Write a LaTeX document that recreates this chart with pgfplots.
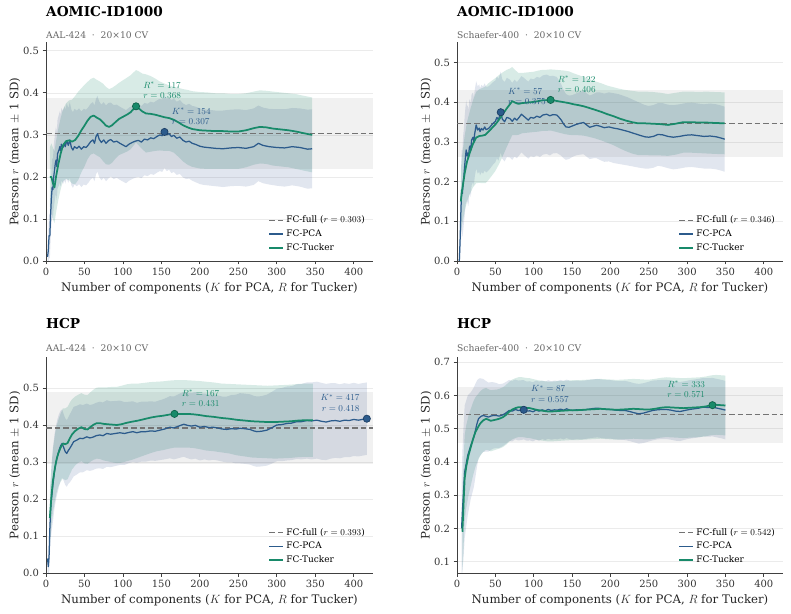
\documentclass[border=0pt]{standalone}
\usepackage{fontspec}
\setmainfont{DejaVu Serif}
\usepackage{pgfplots}
\usepackage{pgfplotstable}
\pgfplotsset{compat=1.18}
\usepgfplotslibrary{fillbetween}

\definecolor{pcaC}{RGB}{44,91,140}
\definecolor{pcaD}{RGB}{28,62,100}
\definecolor{tucC}{RGB}{24,138,106}
\definecolor{tucD}{RGB}{14,98,74}
\definecolor{bandP}{RGB}{55,85,145}

% ---------------- AOMIC / AAL ----------------
\pgfplotstableread{
k m s
2 0.010 0.03
3 0.025 0.04
4 0.060 0.05
5 0.060 0.055
6 0.110 0.06
7 0.150 0.065
8 0.175 0.07
9 0.170 0.07
10 0.200 0.075
12 0.230 0.078
13 0.240 0.08
14 0.225 0.08
15 0.255 0.082
17 0.265 0.085
18 0.272 0.085
19 0.262 0.085
20 0.278 0.086
22 0.270 0.087
24 0.280 0.088
25 0.272 0.088
27 0.286 0.089
29 0.275 0.089
31 0.288 0.09
33 0.270 0.09
35 0.264 0.09
37 0.272 0.09
40 0.268 0.09
43 0.273 0.09
46 0.266 0.09
49 0.272 0.09
52 0.270 0.09
55 0.276 0.09
58 0.284 0.09
61 0.288 0.09
63 0.280 0.09
65 0.296 0.09
67 0.303 0.09
69 0.290 0.09
72 0.282 0.09
75 0.288 0.09
78 0.280 0.09
81 0.286 0.09
84 0.289 0.088
88 0.283 0.088
92 0.285 0.087
96 0.280 0.087
100 0.276 0.087
104 0.272 0.087
108 0.278 0.087
112 0.282 0.087
116 0.285 0.087
120 0.287 0.087
124 0.283 0.086
128 0.290 0.086
132 0.288 0.086
136 0.293 0.086
140 0.291 0.086
144 0.296 0.086
148 0.300 0.086
151 0.298 0.086
154 0.307 0.086
157 0.300 0.086
160 0.303 0.086
163 0.296 0.087
166 0.299 0.087
170 0.292 0.087
174 0.295 0.088
178 0.287 0.088
182 0.283 0.088
186 0.285 0.089
190 0.280 0.089
195 0.277 0.09
200 0.273 0.09
205 0.271 0.09
210 0.270 0.09
220 0.268 0.09
230 0.267 0.091
240 0.269 0.091
250 0.270 0.091
260 0.268 0.091
270 0.272 0.091
276 0.280 0.09
282 0.275 0.09
290 0.272 0.09
300 0.270 0.091
310 0.269 0.092
320 0.272 0.092
330 0.270 0.093
340 0.266 0.094
346 0.267 0.094
}\tlP
\pgfplotstableread{
k m s
5 0.200 0.07
7 0.200 0.08
9 0.185 0.085
11 0.175 0.085
13 0.200 0.085
16 0.230 0.085
19 0.255 0.085
22 0.275 0.085
26 0.285 0.09
30 0.287 0.095
34 0.284 0.1
38 0.288 0.105
42 0.298 0.105
46 0.311 0.1
50 0.322 0.097
54 0.334 0.092
58 0.343 0.09
62 0.346 0.09
66 0.341 0.09
70 0.337 0.09
74 0.330 0.092
78 0.322 0.092
82 0.319 0.09
86 0.323 0.089
90 0.330 0.087
95 0.338 0.086
100 0.343 0.087
106 0.349 0.088
110 0.354 0.088
114 0.362 0.087
117 0.368 0.086
120 0.364 0.088
125 0.356 0.09
130 0.351 0.093
136 0.350 0.09
142 0.348 0.086
148 0.345 0.082
154 0.342 0.08
160 0.340 0.078
166 0.336 0.078
172 0.330 0.082
178 0.323 0.086
184 0.318 0.089
190 0.314 0.09
200 0.311 0.091
210 0.310 0.091
220 0.309 0.09
230 0.309 0.09
240 0.308 0.089
250 0.308 0.089
260 0.311 0.088
270 0.316 0.087
278 0.319 0.087
286 0.318 0.087
295 0.315 0.088
305 0.313 0.088
315 0.311 0.088
325 0.308 0.089
335 0.304 0.089
346 0.300 0.089
}\tlT

% ---------------- AOMIC / Schaefer ----------------
\pgfplotstableread{
k m s
3 0.000 0.03
4 0.050 0.05
5 0.120 0.08
6 0.179 0.10
7 0.170 0.11
8 0.196 0.12
9 0.215 0.12
10 0.240 0.125
11 0.262 0.125
12 0.280 0.125
13 0.265 0.125
14 0.272 0.12
15 0.259 0.12
16 0.285 0.12
17 0.290 0.118
18 0.278 0.117
19 0.305 0.115
21 0.312 0.113
22 0.300 0.112
23 0.320 0.11
25 0.343 0.11
27 0.330 0.11
29 0.335 0.11
30 0.326 0.11
32 0.334 0.11
34 0.330 0.11
36 0.338 0.11
38 0.331 0.108
41 0.334 0.106
44 0.340 0.105
47 0.347 0.104
50 0.352 0.103
52 0.362 0.103
54 0.356 0.103
57 0.375 0.102
59 0.358 0.1
62 0.351 0.1
65 0.362 0.1
69 0.359 0.098
72 0.352 0.097
75 0.360 0.097
78 0.355 0.096
81 0.362 0.096
84 0.370 0.096
87 0.365 0.097
90 0.360 0.097
93 0.355 0.097
96 0.362 0.098
100 0.360 0.098
104 0.365 0.099
108 0.362 0.1
112 0.368 0.1
117 0.370 0.1
121 0.366 0.1
125 0.369 0.098
130 0.368 0.096
133 0.362 0.093
136 0.355 0.09
139 0.345 0.086
142 0.338 0.083
146 0.337 0.08
150 0.340 0.078
155 0.344 0.078
160 0.347 0.079
165 0.349 0.08
169 0.343 0.08
173 0.337 0.08
178 0.340 0.081
182 0.342 0.083
186 0.340 0.085
192 0.336 0.086
198 0.338 0.087
204 0.335 0.088
210 0.333 0.088
216 0.330 0.087
222 0.327 0.086
230 0.322 0.084
238 0.317 0.082
245 0.313 0.08
250 0.312 0.079
256 0.314 0.079
262 0.319 0.079
268 0.318 0.08
275 0.314 0.08
282 0.312 0.081
290 0.314 0.081
298 0.317 0.081
306 0.318 0.081
314 0.316 0.081
322 0.314 0.081
330 0.315 0.082
338 0.313 0.082
344 0.310 0.082
349 0.307 0.082
}\trP
\pgfplotstableread{
k m s
5 0.150 0.08
6 0.170 0.085
8 0.195 0.09
10 0.221 0.095
13 0.250 0.1
17 0.275 0.105
21 0.296 0.11
25 0.311 0.115
29 0.315 0.118
33 0.316 0.12
37 0.318 0.122
41 0.326 0.122
45 0.334 0.12
50 0.344 0.117
55 0.357 0.112
60 0.371 0.105
65 0.385 0.097
69 0.395 0.09
72 0.403 0.086
76 0.399 0.082
80 0.396 0.078
85 0.398 0.076
90 0.399 0.076
95 0.400 0.076
100 0.401 0.076
106 0.403 0.077
112 0.405 0.077
117 0.405 0.077
122 0.406 0.077
128 0.404 0.078
134 0.402 0.079
140 0.400 0.08
146 0.398 0.08
152 0.395 0.078
158 0.393 0.076
165 0.390 0.074
172 0.386 0.073
180 0.381 0.072
188 0.376 0.072
196 0.370 0.072
204 0.365 0.073
212 0.359 0.075
220 0.354 0.077
228 0.350 0.079
236 0.347 0.08
245 0.347 0.08
255 0.346 0.08
265 0.345 0.079
275 0.343 0.078
285 0.346 0.078
295 0.350 0.077
305 0.350 0.077
315 0.349 0.077
325 0.349 0.078
335 0.348 0.078
349 0.347 0.078
}\trT

% ---------------- HCP / AAL ----------------
\pgfplotstableread{
k m s
2 0.040 0.03
3 0.018 0.035
4 0.045 0.05
5 0.120 0.07
6 0.170 0.08
7 0.198 0.09
9 0.240 0.1
11 0.275 0.1
13 0.300 0.1
15 0.318 0.1
17 0.333 0.098
19 0.345 0.095
21 0.351 0.092
23 0.340 0.09
25 0.329 0.09
27 0.324 0.09
29 0.332 0.09
31 0.338 0.092
33 0.345 0.093
36 0.356 0.094
40 0.360 0.093
44 0.365 0.092
48 0.364 0.091
53 0.369 0.09
57 0.366 0.089
61 0.368 0.089
65 0.372 0.089
70 0.374 0.09
74 0.372 0.09
79 0.378 0.09
84 0.376 0.089
90 0.378 0.088
96 0.380 0.087
102 0.378 0.085
108 0.381 0.083
113 0.383 0.082
118 0.380 0.081
124 0.383 0.081
130 0.383 0.081
136 0.385 0.08
142 0.384 0.08
148 0.387 0.081
154 0.390 0.082
161 0.395 0.084
166 0.393 0.085
170 0.396 0.086
175 0.400 0.087
179 0.403 0.088
184 0.400 0.089
189 0.398 0.09
194 0.400 0.09
200 0.395 0.09
206 0.397 0.089
212 0.394 0.089
217 0.395 0.088
223 0.393 0.088
229 0.390 0.088
235 0.389 0.089
241 0.391 0.091
247 0.390 0.093
252 0.392 0.095
258 0.391 0.095
265 0.389 0.095
270 0.385 0.095
274 0.383 0.095
280 0.384 0.095
287 0.387 0.096
293 0.393 0.097
300 0.401 0.098
306 0.402 0.099
313 0.405 0.1
319 0.406 0.1
326 0.410 0.101
332 0.410 0.102
339 0.413 0.103
345 0.412 0.104
352 0.414 0.104
358 0.411 0.104
364 0.409 0.103
370 0.412 0.102
376 0.413 0.101
382 0.411 0.1
388 0.414 0.1
394 0.413 0.099
400 0.416 0.099
406 0.414 0.098
411 0.416 0.098
417 0.418 0.098
}\blP
\pgfplotstableread{
k m s
5 0.150 0.07
7 0.207 0.08
9 0.250 0.085
12 0.290 0.09
14 0.310 0.09
16 0.324 0.09
19 0.340 0.092
22 0.351 0.095
25 0.349 0.097
28 0.352 0.098
31 0.365 0.097
34 0.376 0.095
38 0.385 0.093
42 0.391 0.092
46 0.395 0.092
50 0.390 0.093
54 0.389 0.093
58 0.396 0.094
62 0.402 0.095
66 0.406 0.096
70 0.406 0.097
75 0.404 0.099
80 0.403 0.1
86 0.402 0.102
92 0.401 0.103
98 0.403 0.104
105 0.407 0.104
112 0.410 0.103
120 0.413 0.1
128 0.417 0.098
136 0.421 0.096
144 0.424 0.094
152 0.426 0.093
160 0.429 0.092
167 0.431 0.091
175 0.431 0.091
183 0.431 0.091
191 0.430 0.091
199 0.428 0.092
208 0.425 0.093
218 0.423 0.093
228 0.420 0.093
238 0.418 0.094
248 0.415 0.096
258 0.413 0.097
268 0.411 0.098
278 0.410 0.098
288 0.409 0.098
298 0.409 0.099
308 0.410 0.099
318 0.411 0.099
328 0.413 0.099
338 0.414 0.099
347 0.414 0.099
}\blT

% ---------------- HCP / Schaefer ----------------
\pgfplotstableread{
k m s
6 0.200 0.15
7 0.250 0.18
8 0.290 0.19
9 0.330 0.2
10 0.370 0.2
12 0.395 0.19
14 0.420 0.18
16 0.435 0.17
18 0.450 0.16
20 0.462 0.155
22 0.475 0.15
24 0.495 0.14
26 0.515 0.13
28 0.530 0.12
30 0.535 0.117
32 0.538 0.113
34 0.540 0.11
37 0.538 0.107
41 0.535 0.104
44 0.538 0.102
47 0.540 0.1
51 0.540 0.098
55 0.538 0.096
60 0.542 0.094
64 0.548 0.093
68 0.555 0.092
72 0.553 0.091
76 0.558 0.09
80 0.555 0.09
84 0.556 0.09
87 0.557 0.089
91 0.553 0.089
95 0.554 0.089
99 0.551 0.089
103 0.556 0.089
107 0.553 0.089
111 0.557 0.088
115 0.554 0.088
119 0.558 0.088
123 0.555 0.088
127 0.557 0.088
131 0.556 0.088
135 0.559 0.088
139 0.556 0.088
143 0.560 0.088
147 0.556 0.088
151 0.555 0.088
156 0.557 0.088
161 0.556 0.088
166 0.557 0.088
172 0.559 0.088
178 0.561 0.088
183 0.562 0.088
189 0.560 0.088
195 0.558 0.088
201 0.558 0.088
207 0.556 0.088
213 0.555 0.088
219 0.555 0.089
225 0.552 0.089
231 0.548 0.089
237 0.545 0.09
243 0.547 0.09
249 0.551 0.09
255 0.555 0.09
261 0.557 0.089
267 0.558 0.089
273 0.558 0.089
279 0.556 0.089
285 0.553 0.089
291 0.552 0.089
297 0.555 0.088
303 0.558 0.088
309 0.560 0.088
315 0.562 0.088
321 0.565 0.088
327 0.564 0.088
333 0.565 0.088
339 0.562 0.088
345 0.559 0.088
350 0.556 0.088
}\brP
\pgfplotstableread{
k m s
7 0.190 0.12
8 0.240 0.13
9 0.300 0.13
10 0.350 0.13
12 0.385 0.125
15 0.420 0.12
18 0.445 0.115
21 0.470 0.11
24 0.490 0.105
27 0.503 0.1
30 0.515 0.097
34 0.525 0.095
38 0.530 0.093
41 0.527 0.092
44 0.524 0.092
48 0.526 0.091
52 0.528 0.09
56 0.531 0.09
60 0.535 0.09
64 0.542 0.09
68 0.551 0.09
72 0.558 0.09
76 0.562 0.09
80 0.565 0.09
85 0.565 0.09
90 0.563 0.09
95 0.562 0.09
100 0.559 0.09
106 0.556 0.09
112 0.554 0.09
118 0.552 0.09
124 0.552 0.09
130 0.553 0.09
136 0.554 0.09
143 0.555 0.09
150 0.556 0.09
158 0.556 0.09
165 0.557 0.09
172 0.558 0.09
180 0.559 0.09
187 0.560 0.09
194 0.559 0.09
201 0.558 0.09
208 0.557 0.09
216 0.558 0.09
223 0.559 0.09
230 0.560 0.09
238 0.559 0.09
245 0.558 0.09
251 0.558 0.09
258 0.560 0.09
265 0.563 0.09
273 0.565 0.09
280 0.564 0.09
288 0.563 0.09
295 0.562 0.09
302 0.563 0.09
310 0.564 0.09
317 0.565 0.09
324 0.567 0.09
330 0.570 0.09
333 0.571 0.09
338 0.572 0.09
344 0.571 0.09
350 0.570 0.09
}\brT

\pgfplotsset{
  panel/.style={
    scale only axis, xmin=0, xmax=425,
    axis x line*=bottom, axis y line*=left,
    xtick={0,50,100,150,200,250,300,350,400},
    tick align=outside, major tick length=3.5bp,
    ymajorgrids, grid style={draw=black!8, line width=0.7bp},
    axis line style={draw=black!75, line width=0.8bp, -},
    every tick/.style={draw=black!75, line width=0.8bp},
    tick label style={font=\fontsize{10}{12}\selectfont, text=black!80},
    /pgf/number format/assume math mode=true,
    yticklabel style={/pgf/number format/fixed, /pgf/number format/fixed zerofill, /pgf/number format/precision=1},
    xlabel={Number of components ($K$ for PCA, $R$ for Tucker)},
    ylabel={Pearson $r$ (mean $\pm$ 1 SD)},
    every axis x label/.style={at={(axis description cs:0.5,0)}, anchor=center, yshift=-27bp, font=\fontsize{11.8}{14}\selectfont, text=black!85},
    every axis y label/.style={at={(axis description cs:-0.095,0.5)}, rotate=90, anchor=center, font=\fontsize{11.8}{14}\selectfont, text=black!85},
    legend style={draw=none, fill=none, at={(axis description cs:1,0)}, anchor=south east, font=\fontsize{9}{10}\selectfont, row sep=1.5bp, xshift=-6bp, yshift=7bp, inner sep=0pt},
    legend cell align=left,
    legend image code/.code={\draw[##1] (0bp,0bp) -- (14bp,0bp);},
  },
  fcline/.style={color=black!55, line width=1.25bp, dash pattern=on 5.5bp off 3bp},
  pcaline/.style={color=pcaC, line width=1.25bp, line join=round},
  tucline/.style={color=tucC, line width=1.75bp, line join=round},
  pcamark/.style={only marks, mark=*, mark size=3.6bp, mark options={fill=pcaC, draw=pcaD, line width=0.7bp}},
  tucmark/.style={only marks, mark=*, mark size=3.6bp, mark options={fill=tucC, draw=tucD, line width=0.7bp}},
  annR/.style={every node near coord/.append style={anchor=south west, align=left, inner sep=0pt, xshift=7bp, yshift=7bp, font=\fontsize{8.8}{10.5}\selectfont, text=#1}},
  annL/.style={every node near coord/.append style={anchor=south east, align=right, inner sep=0pt, xshift=-7bp, yshift=7bp, font=\fontsize{8.8}{10.5}\selectfont, text=#1}},
}

\newcommand{\bands}[3]{% #1 = PCA table, #2 = Tucker table, #3 = prefix
  \addplot[name path=#3Tu, draw=none, forget plot] table[x=k, y expr=\thisrow{m}+\thisrow{s}] {#2};
  \addplot[name path=#3Tl, draw=none, forget plot] table[x=k, y expr=\thisrow{m}-\thisrow{s}] {#2};
  \addplot[fill=tucC, fill opacity=0.17, draw=none, forget plot] fill between[of=#3Tu and #3Tl];
  \addplot[name path=#3Pu, draw=none, forget plot] table[x=k, y expr=\thisrow{m}+\thisrow{s}] {#1};
  \addplot[name path=#3Pl, draw=none, forget plot] table[x=k, y expr=\thisrow{m}-\thisrow{s}] {#1};
  \addplot[fill=bandP, fill opacity=0.15, draw=none, forget plot] fill between[of=#3Pu and #3Pl];
}

\begin{document}
\begin{tikzpicture}

% ===== Top left =====
\begin{axis}[panel, at={(46bp,353bp)}, anchor=south west, width=327bp, height=219bp,
  ymin=0, ymax=0.521, ytick={0,0.1,0.2,0.3,0.4,0.5}]
\addplot[draw=none, fill=black, fill opacity=0.055, forget plot] coordinates {(0,0.218) (425,0.218) (425,0.388) (0,0.388)};
\bands{\tlP}{\tlT}{a}
\addplot[fcline, forget plot] coordinates {(0,0.303) (425,0.303)};
\addplot[pcaline, forget plot] table[x=k, y=m] {\tlP};
\addplot[tucline, forget plot] table[x=k, y=m] {\tlT};
\addplot[pcamark, forget plot, annR=pcaC, nodes near coords={$K^{*}=154$\\$r=0.307$}] coordinates {(154,0.307)};
\addplot[tucmark, forget plot, annR=tucC, nodes near coords={$R^{*}=117$\\$r=0.368$}] coordinates {(117,0.368)};
\addlegendimage{fcline}\addlegendentry{FC-full ($r=0.303$)}
\addlegendimage{pcaline}\addlegendentry{FC-PCA}
\addlegendimage{tucline}\addlegendentry{FC-Tucker}
\end{axis}

% ===== Top right =====
\begin{axis}[panel, at={(457bp,353bp)}, anchor=south west, width=326bp, height=219bp,
  ymin=0, ymax=0.552, ytick={0,0.1,0.2,0.3,0.4,0.5}]
\addplot[draw=none, fill=black, fill opacity=0.055, forget plot] coordinates {(0,0.261) (425,0.261) (425,0.431) (0,0.431)};
\bands{\trP}{\trT}{b}
\addplot[fcline, forget plot] coordinates {(0,0.346) (425,0.346)};
\addplot[pcaline, forget plot] table[x=k, y=m] {\trP};
\addplot[tucline, forget plot] table[x=k, y=m] {\trT};
\addplot[pcamark, forget plot, annR=pcaC, nodes near coords={$K^{*}=57$\\$r=0.375$}] coordinates {(57,0.375)};
\addplot[tucmark, forget plot, annR=tucC, nodes near coords={$R^{*}=122$\\$r=0.406$}] coordinates {(122,0.406)};
\addlegendimage{fcline}\addlegendentry{FC-full ($r=0.346$)}
\addlegendimage{pcaline}\addlegendentry{FC-PCA}
\addlegendimage{tucline}\addlegendentry{FC-Tucker}
\end{axis}

% ===== Bottom left =====
\begin{axis}[panel, at={(46bp,40.7bp)}, anchor=south west, width=327bp, height=216bp,
  ymin=0, ymax=0.584, ytick={0,0.1,0.2,0.3,0.4,0.5}]
\addplot[draw=none, fill=black, fill opacity=0.055, forget plot] coordinates {(0,0.296) (425,0.296) (425,0.490) (0,0.490)};
\bands{\blP}{\blT}{c}
\addplot[fcline, forget plot] coordinates {(0,0.393) (425,0.393)};
\addplot[pcaline, forget plot] table[x=k, y=m] {\blP};
\addplot[tucline, forget plot] table[x=k, y=m] {\blT};
\addplot[pcamark, forget plot, annL=pcaC, nodes near coords={$K^{*}=417$\\$r=0.418$}] coordinates {(417,0.418)};
\addplot[tucmark, forget plot, annR=tucC, nodes near coords={$R^{*}=167$\\$r=0.431$}] coordinates {(167,0.431)};
\addlegendimage{fcline}\addlegendentry{FC-full ($r=0.393$)}
\addlegendimage{pcaline}\addlegendentry{FC-PCA}
\addlegendimage{tucline}\addlegendentry{FC-Tucker}
\end{axis}

% ===== Bottom right =====
\begin{axis}[panel, at={(457bp,40.7bp)}, anchor=south west, width=326bp, height=216bp,
  ymin=0.065, ymax=0.715, ytick={0.1,0.2,0.3,0.4,0.5,0.6,0.7}]
\addplot[draw=none, fill=black, fill opacity=0.055, forget plot] coordinates {(0,0.458) (425,0.458) (425,0.625) (0,0.625)};
\bands{\brP}{\brT}{d}
\addplot[fcline, forget plot] coordinates {(0,0.542) (425,0.542)};
\addplot[pcaline, forget plot] table[x=k, y=m] {\brP};
\addplot[tucline, forget plot] table[x=k, y=m] {\brT};
\addplot[pcamark, forget plot, annR=pcaC, nodes near coords={$K^{*}=87$\\$r=0.557$}] coordinates {(87,0.557)};
\addplot[tucmark, forget plot, annL=tucC, nodes near coords={$R^{*}=333$\\$r=0.571$}] coordinates {(333,0.571)};
\addlegendimage{fcline}\addlegendentry{FC-full ($r=0.542$)}
\addlegendimage{pcaline}\addlegendentry{FC-PCA}
\addlegendimage{tucline}\addlegendentry{FC-Tucker}
\end{axis}

% ===== Titles =====
\node[anchor=west, inner sep=0pt, font=\fontsize{13.7}{16}\selectfont\bfseries] at (46bp,602bp) {AOMIC-ID1000};
\node[anchor=west, inner sep=0pt, font=\fontsize{9.2}{11}\selectfont, text=black!60] at (46bp,579bp) {AAL-424~~·~~20×10 CV};
\node[anchor=west, inner sep=0pt, font=\fontsize{13.7}{16}\selectfont\bfseries] at (457bp,602bp) {AOMIC-ID1000};
\node[anchor=west, inner sep=0pt, font=\fontsize{9.2}{11}\selectfont, text=black!60] at (457bp,579bp) {Schaefer-400~~·~~20×10 CV};
\node[anchor=west, inner sep=0pt, font=\fontsize{13.7}{16}\selectfont\bfseries] at (46bp,290bp) {HCP};
\node[anchor=west, inner sep=0pt, font=\fontsize{9.2}{11}\selectfont, text=black!60] at (46bp,265.7bp) {AAL-424~~·~~20×10 CV};
\node[anchor=west, inner sep=0pt, font=\fontsize{13.7}{16}\selectfont\bfseries] at (457bp,290bp) {HCP};
\node[anchor=west, inner sep=0pt, font=\fontsize{9.2}{11}\selectfont, text=black!60] at (457bp,265.7bp) {Schaefer-400~~·~~20×10 CV};
\path (0bp,0bp) rectangle (791bp,614bp);
\end{tikzpicture}
\end{document}
